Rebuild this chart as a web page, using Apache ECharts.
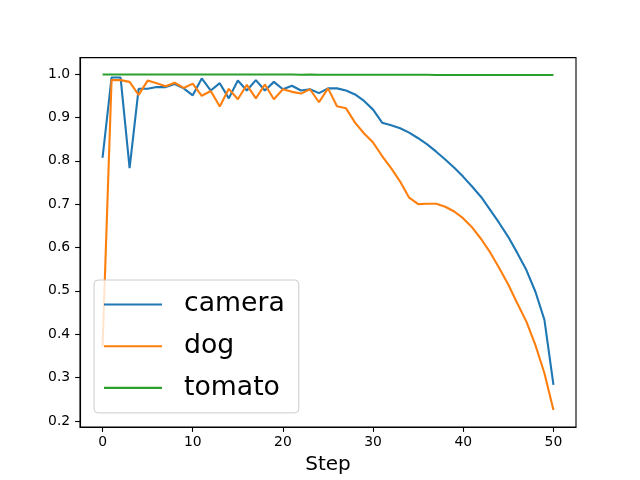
<!DOCTYPE html>
<html>
<head>
<meta charset="utf-8">
<script src="https://cdn.jsdelivr.net/npm/echarts@6/dist/echarts.min.js"></script>
<style>html,body{margin:0;padding:0;background:#fff}#c{width:640px;height:480px}</style>
</head>
<body>
<div id="c"></div>
<script>
var steps = [];
for (var i = 0; i <= 50; i++) steps.push(i);
var xTicks = [0, 10, 20, 30, 40, 50];
var yTicks = [0.2, 0.3, 0.4, 0.5, 0.6, 0.7, 0.8, 0.9, 1.0];
var seriesNames = ['camera', 'dog', 'tomato'];
var camera = [0.807, 0.992, 0.992, 0.783, 0.966, 0.966, 0.970, 0.970, 0.977, 0.967,
  0.951, 0.990, 0.962, 0.979, 0.944, 0.985, 0.962, 0.986, 0.962, 0.982,
  0.965, 0.973, 0.962, 0.965, 0.956, 0.967, 0.967, 0.962, 0.953, 0.938,
  0.918, 0.888, 0.882, 0.875, 0.865, 0.852, 0.838, 0.821, 0.803, 0.784,
  0.763, 0.740, 0.716, 0.686, 0.656, 0.624, 0.587, 0.548, 0.498, 0.433, 0.283];
var dog = [0.371, 0.986, 0.986, 0.982, 0.952, 0.985, 0.979, 0.972, 0.980, 0.968,
  0.978, 0.950, 0.961, 0.925, 0.966, 0.942, 0.975, 0.944, 0.976, 0.942,
  0.965, 0.959, 0.955, 0.965, 0.935, 0.967, 0.926, 0.921, 0.888, 0.863,
  0.842, 0.811, 0.783, 0.752, 0.715, 0.700, 0.701, 0.701, 0.694, 0.683,
  0.667, 0.646, 0.619, 0.588, 0.552, 0.514, 0.471, 0.429, 0.375, 0.310, 0.225];
var tomato = [0.999, 0.999, 0.999, 0.999, 0.999, 0.999, 0.999, 0.999, 0.999, 0.999,
  0.999, 0.999, 0.999, 0.999, 0.999, 0.999, 0.999, 0.999, 0.999, 0.999,
  0.999, 0.999, 0.9985, 0.999, 0.9985, 0.9985, 0.9985, 0.9985, 0.9985, 0.9985,
  0.9985, 0.9985, 0.9985, 0.9985, 0.9985, 0.9985, 0.9985, 0.998, 0.998, 0.998,
  0.998, 0.998, 0.998, 0.998, 0.998, 0.998, 0.998, 0.998, 0.998, 0.998, 0.998];
var colors = ['#1f77b4', '#ff7f0e', '#2ca02c'];
var values = [camera, dog, tomato];

function pairs(v) { return steps.map(function (s, i) { return [s, v[i]]; }); }

var font = 'DejaVu Sans';
var chart = echarts.init(document.getElementById('c'), null, {renderer: 'canvas'});
chart.setOption({
  animation: false,
  backgroundColor: '#ffffff',
  color: colors,
  textStyle: {fontFamily: font},
  grid: {left: 80, right: 64, top: 57.6, bottom: 52.8, show: true, borderColor: '#000', borderWidth: 1.1, backgroundColor: 'transparent'},
  legend: {
    orient: 'vertical',
    left: 94, top: 280,
    data: seriesNames.map(function (n) { return {name: n, icon: 'rect'}; }),
    itemWidth: 58, itemHeight: 2.1, itemGap: 13.7,
    padding: [10.5, 14, 11, 10],
    backgroundColor: 'rgba(255,255,255,0.8)',
    borderColor: '#cccccc', borderWidth: 1, borderRadius: 4,
    textStyle: {fontFamily: font, fontSize: 26.7, color: '#000', lineHeight: 28, padding: [0, 0, 0, 17]}
  },
  xAxis: {
    type: 'value', min: -2.5, max: 52.5,
    name: 'Step', nameLocation: 'middle', nameGap: 28,
    nameTextStyle: {fontFamily: font, fontSize: 20, color: '#000'},
    axisLine: {show: true, onZero: false, lineStyle: {color: '#000', width: 1.1}},
    axisTick: {show: true, length: 4.9, lineStyle: {color: '#000', width: 1.1}, customValues: xTicks},
    axisLabel: {color: '#000', fontSize: 13.9, fontFamily: font, margin: 8, customValues: xTicks,
      formatter: function (v) { return String(v); }},
    splitLine: {show: false}
  },
  yAxis: {
    type: 'value', min: 0.186, max: 1.038,
    axisLine: {show: true, onZero: false, lineStyle: {color: '#000', width: 1.1}},
    axisTick: {show: true, length: 4.9, lineStyle: {color: '#000', width: 1.1}, customValues: yTicks},
    axisLabel: {color: '#000', fontSize: 13.9, fontFamily: font, margin: 9.8, customValues: yTicks,
      formatter: function (v) { return v.toFixed(1); }},
    splitLine: {show: false}
  },
  series: seriesNames.map(function (n, k) {
    return {
      name: n, type: 'line', data: pairs(values[k]),
      symbol: 'none', showSymbol: false,
      lineStyle: {color: colors[k], width: 2.1},
      itemStyle: {color: colors[k]}
    };
  })
});
</script>
</body>
</html>
